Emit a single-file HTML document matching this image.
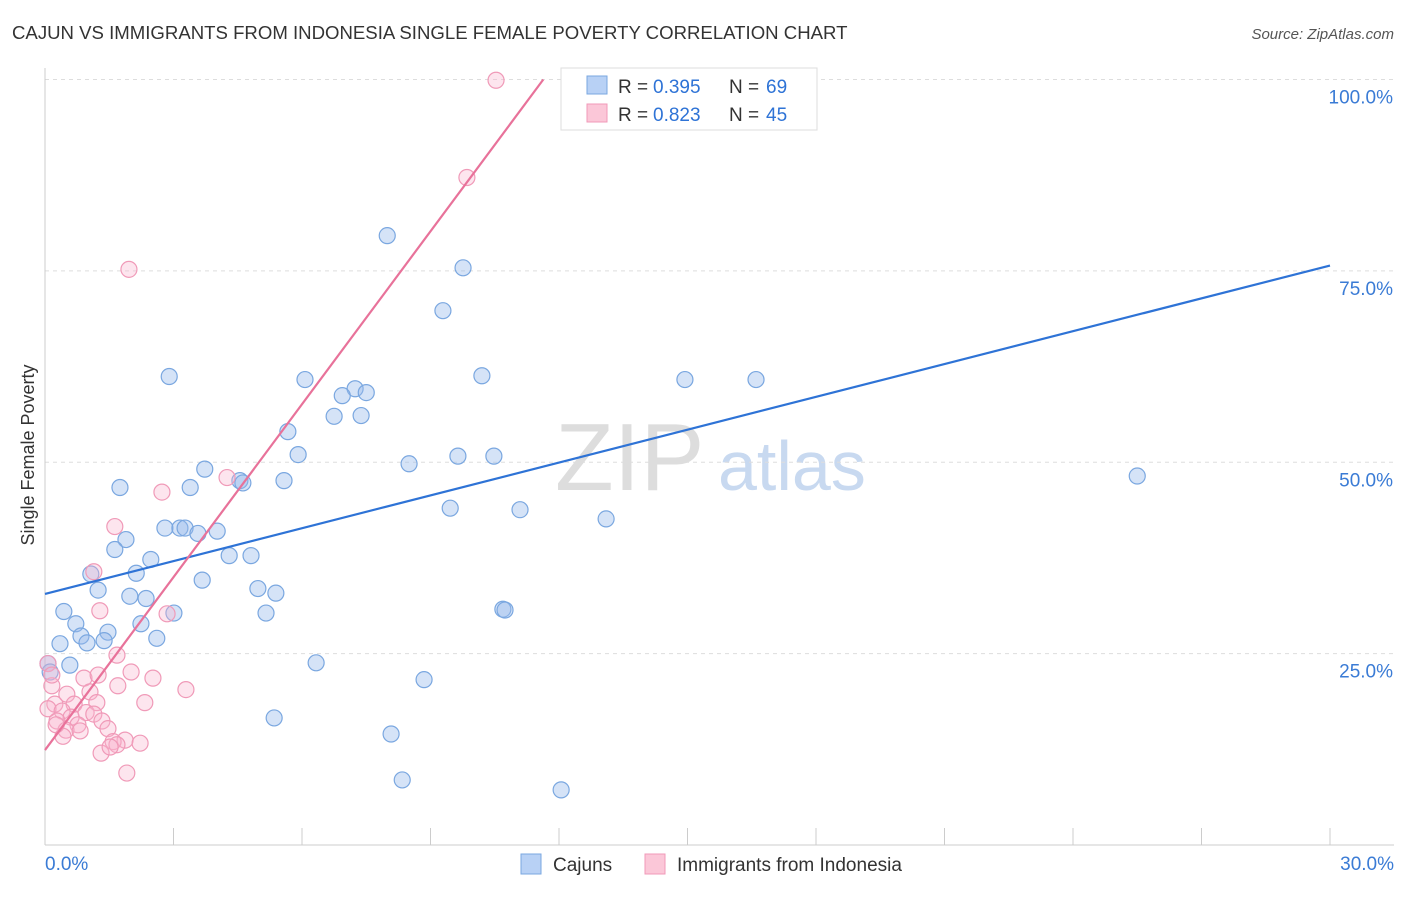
<!DOCTYPE html>
<html><head><meta charset="utf-8"><style>
body{margin:0;background:#fff;font-family:"Liberation Sans",sans-serif}
svg text{font-family:"Liberation Sans",sans-serif}
</style></head><body>
<svg width="1406" height="892" xmlns="http://www.w3.org/2000/svg">
<text x="12" y="39" font-size="18.6" fill="#333">CAJUN VS IMMIGRANTS FROM INDONESIA SINGLE FEMALE POVERTY CORRELATION CHART</text>
<text x="1394" y="39" font-size="15" fill="#555" text-anchor="end" font-style="italic">Source: ZipAtlas.com</text>
<text x="34" y="455" font-size="18" fill="#333" text-anchor="middle" transform="rotate(-90 34 455)">Single Female Poverty</text>
<text x="555" y="490" font-size="96" fill="#ddd" font-family="Liberation Serif">ZIP</text>
<text x="718" y="490" font-size="70" fill="#c8d9f0">atlas</text>
<g id="grid"></g>
<g id="axes"></g>
<g id="pts"></g>
<g id="lines"></g>
<g>
<rect x="561" y="68" width="256" height="62" fill="#fff" stroke="#ddd"/>
<rect x="587" y="76" width="20" height="18" fill="#b8d1f5" stroke="#7aa7e0"/>
<rect x="587" y="104" width="20" height="18" fill="#fbc7d8" stroke="#f09ab8"/>
<text x="618" y="93" font-size="19" fill="#333">R =</text>
<text x="653" y="93" font-size="19" fill="#2e73d6">0.395</text>
<text x="729" y="93" font-size="19" fill="#333">N =</text>
<text x="766" y="93" font-size="19" fill="#2e73d6">69</text>
<text x="618" y="121" font-size="19" fill="#333">R =</text>
<text x="653" y="121" font-size="19" fill="#2e73d6">0.823</text>
<text x="729" y="121" font-size="19" fill="#333">N =</text>
<text x="766" y="121" font-size="19" fill="#2e73d6">45</text>
</g>
<g>
<rect x="521" y="854" width="20" height="20" fill="#b8d1f5" stroke="#7aa7e0"/>
<text x="553" y="871" font-size="19" fill="#333">Cajuns</text>
<rect x="645" y="854" width="20" height="20" fill="#fbc7d8" stroke="#f09ab8"/>
<text x="677" y="871" font-size="19" fill="#333">Immigrants from Indonesia</text>
</g>
</svg>
<script>
const yTicks=[25,50,75,100];
const yTickLabels=["25.0%","50.0%","75.0%","100.0%"];
const xTickLabels=["0.0%","30.0%"];
const blueLine=[32.8,75.7];
const pinkLine=[12.4,7.53];
const cajunX=[12.54,7.99,9.76,9.29,2.9,6.07,10.2,14.94,16.6,7.24,7.5,6.94,6.75,7.38,5.67,5.91,8.5,9.64,10.48,25.5,4.55,3.73,4.62,1.75,3.39,5.58,9.46,11.09,13.1,2.8,3.15,3.27,3.57,4.02,1.89,1.63,2.47,4.3,4.81,2.13,1.07,3.67,1.24,4.97,5.39,1.98,2.36,0.44,3.01,5.16,10.69,10.74,0.72,2.24,1.47,0.84,0.35,0.98,1.38,2.61,0.07,0.58,6.33,8.85,5.35,8.08,8.34,12.05,0.12];
const cajunY=[99.9,79.6,75.4,69.8,61.2,60.8,61.3,60.8,60.8,59.6,59.1,58.7,56,56.1,54,51,49.8,50.8,50.8,48.2,47.6,49.1,47.3,46.7,46.7,47.6,44,43.8,42.6,41.4,41.4,41.4,40.7,41,39.9,38.6,37.3,37.8,37.8,35.5,35.4,34.6,33.3,33.5,32.9,32.5,32.2,30.5,30.3,30.3,30.8,30.7,28.9,28.9,27.8,27.3,26.3,26.4,26.7,27,23.7,23.5,23.8,21.6,16.6,14.5,8.5,7.2,22.6];
const indoX=[10.53,9.85,1.96,4.25,2.73,1.63,1.14,1.28,2.85,1.68,0.07,2.01,2.52,0.91,1.24,1.7,3.29,0.16,0.51,1.05,0.23,0.68,1.21,2.33,0.07,0.4,0.96,0.61,1.14,0.28,0.77,1.33,1.47,0.49,0.82,0.42,1.87,1.59,1.68,2.22,1.31,1.91,0.16,0.26,1.52];
const indoY=[99.9,87.2,75.2,48,46.1,41.6,35.7,30.6,30.2,24.8,23.7,22.6,21.8,21.8,22.2,20.8,20.3,20.8,19.7,20,18.4,18.4,18.6,18.6,17.8,17.5,17.3,16.7,17.1,16.2,15.7,16.2,15.2,15,14.9,14.2,13.7,13.5,13.1,13.3,12,9.4,22.2,15.7,12.8];
const X0=45,X1=1330,Y0=845,Y100=79.5;
const sx=v=>X0+(X1-X0)*v/30, sy=v=>Y0-(Y0-Y100)*v/100;
const NS="http://www.w3.org/2000/svg";
function mk(t,a,p){const e=document.createElementNS(NS,t);for(const k in a)e.setAttribute(k,a[k]);document.getElementById(p).appendChild(e);return e;}
yTicks.forEach((v,i)=>{
 const l=mk('line',{x1:X0,x2:1394,y1:sy(v),y2:sy(v),stroke:'#ddd','stroke-dasharray':'4,4'},'grid');
 
 
 const t=mk('text',{x:1393,y:sy(v)+24,'font-size':19,fill:'#3a7bd5','text-anchor':'end'},'grid');
 t.textContent=yTickLabels[i];
 
 
});
let a=mk('line',{x1:X0,x2:X0,y1:68,y2:Y0,stroke:'#ccc'},'axes');


a=mk('line',{x1:X0,x2:1394,y1:Y0,y2:Y0,stroke:'#ccc'},'axes');


for(let i=1;i<=10;i++){const t=mk('line',{x1:sx(i*3),x2:sx(i*3),y1:828,y2:Y0,stroke:'#ccc'},'axes');
 
 }
[[0,'start',45],[30,'end',1394]].forEach((d,i)=>{const t=mk('text',{x:d[2],y:870,'font-size':19,fill:'#3a7bd5','text-anchor':d[1]},'axes');t.textContent=xTickLabels[i];
 
 });
cajunX.forEach((x,i)=>{const c=mk('circle',{cx:sx(x),cy:sy(cajunY[i]),r:8,fill:'rgba(150,185,235,0.4)',stroke:'#7aa7e0','stroke-width':1.2},'pts');
 
 });
indoX.forEach((x,i)=>{const c=mk('circle',{cx:sx(x),cy:sy(indoY[i]),r:8,fill:'rgba(248,180,205,0.35)',stroke:'#f09ab8','stroke-width':1.2},'pts');
 
 });
let b=mk('line',{x1:sx(0),y1:sy(blueLine[0]),x2:sx(30),y2:sy(blueLine[1]),stroke:'#2e73d6','stroke-width':2.2},'lines');


const xe=(100-pinkLine[0])/pinkLine[1];
b=mk('line',{x1:sx(0),y1:sy(pinkLine[0]),x2:sx(xe),y2:sy(100),stroke:'#e8729a','stroke-width':2.2},'lines');


</script>
</body></html>
